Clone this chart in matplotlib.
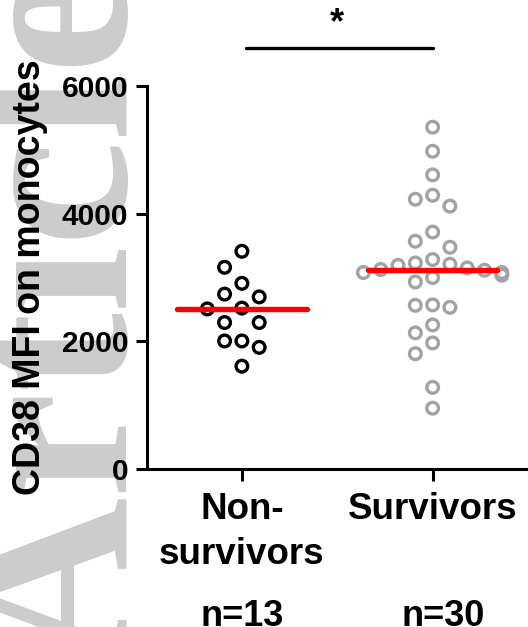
import numpy as np
import matplotlib
matplotlib.use("Agg")
import matplotlib.pyplot as plt
import matplotlib.transforms as mtransforms

plt.rcParams['font.family'] = ['Liberation Sans', 'DejaVu Sans']
plt.rcParams['font.weight'] = 'bold'

# values
groups = ["Non-\nsurvivors", "Survivors"]
counts = ["n=13", "n=30"]
non_survivors = [3411, 3160, 2909, 2740, 2696, 2521, 2508, 2295, 2295, 2006, 2006, 1906, 1611]
survivors = [5355, 4978, 4608, 4289, 4226, 4119, 3712, 3568, 3474, 3282, 3228, 3208, 3190,
             3150, 3125, 3114, 3078, 3078, 3036, 3000, 2931, 2571, 2564, 2533, 2257, 2132,
             1975, 1806, 1279, 953]
colors = ["black", "#a3a3a6"]
yticks = [0, 2000, 4000, 6000]

fig = plt.figure(figsize=(5.28, 6.27), dpi=100)
ax = fig.add_axes([0.2775, 0.252, 0.7225, 0.6108])
ax.set_xlim(0.5, 2.5)
ax.set_ylim(0, 6000)
ax.patch.set_alpha(0)

# pixels per data unit, used for the column-scatter layout
ax_w = fig.get_figwidth() * fig.dpi * 0.7225
ax_h = fig.get_figheight() * fig.dpi * 0.6108
px_x = ax_w / 2.0
px_y = ax_h / 6000.0


def swarm(vals, step_px=17.3, gap_px=16.5):
    # greedy column scatter: same column needs gap_px vertically
    placed = []
    out_v, out_k = [], []
    for v in sorted(vals, reverse=True):
        for k in [0, -1, 1, -2, 2, -3, 3, -4, 4]:
            ok = True
            for kk, vv in placed:
                if kk == k and abs(v - vv) * px_y < gap_px:
                    ok = False
                    break
            if ok:
                break
        placed.append((k, v))
        out_v.append(v)
        out_k.append(k * step_px / px_x)
    return np.array(out_k), np.array(out_v)


for i, (vals, c) in enumerate(zip([non_survivors, survivors], colors)):
    xpos = i + 1
    dx, vv = swarm(vals)
    ax.scatter(xpos + dx, vv, s=8.4 ** 2, facecolors='none', edgecolors=c,
               linewidths=2.4, zorder=3, clip_on=False)
    med = np.median(vals)
    ax.plot([xpos - 0.34, xpos + 0.34], [med, med], color='#ff0000', lw=3.9,
            solid_capstyle='round', zorder=4)

# significance bar
ax.plot([1.02, 2.0], [6600, 6600], color='black', lw=2.4, solid_capstyle='round',
        clip_on=False)
ax.text(1.5, 6830, '*', ha='center', va='baseline', fontsize=26, fontweight='bold')

for s in ['top', 'right']:
    ax.spines[s].set_visible(False)
for s in ['left', 'bottom']:
    ax.spines[s].set_linewidth(2.2)

ax.set_yticks(yticks)
ax.set_yticklabels([str(t) for t in yticks], fontsize=21.5, fontweight='bold')
ax.set_xticks([1, 2])
ax.set_xticklabels(groups, fontsize=26.5, fontweight='bold', linespacing=1.35)
ax.tick_params(axis='y', length=8, width=2.2, pad=5)
ax.tick_params(axis='x', length=8.6, width=2.2, pad=8)

ax.set_ylabel('CD38 MFI on monocytes', fontsize=27, fontweight='bold', va='center')
ax.yaxis.set_label_coords(-0.305, 0.5)

# n= labels sit at the bottom edge of the figure
blend = mtransforms.blended_transform_factory(ax.transData, fig.transFigure)
for i, t in enumerate(counts):
    fig.text(1 + i * 1.055, 1 / 627, t, transform=blend, ha='center',
             va='baseline', fontsize=26, fontweight='bold')

# journal watermark
fig.text(125 / 528, -40 / 627, 'Article', rotation=90, rotation_mode='anchor',
         ha='left', va='baseline', fontsize=172, family='Liberation Serif',
         fontweight='bold', color='#cccccc', zorder=-1)

fig.savefig('out.png', dpi=100)
